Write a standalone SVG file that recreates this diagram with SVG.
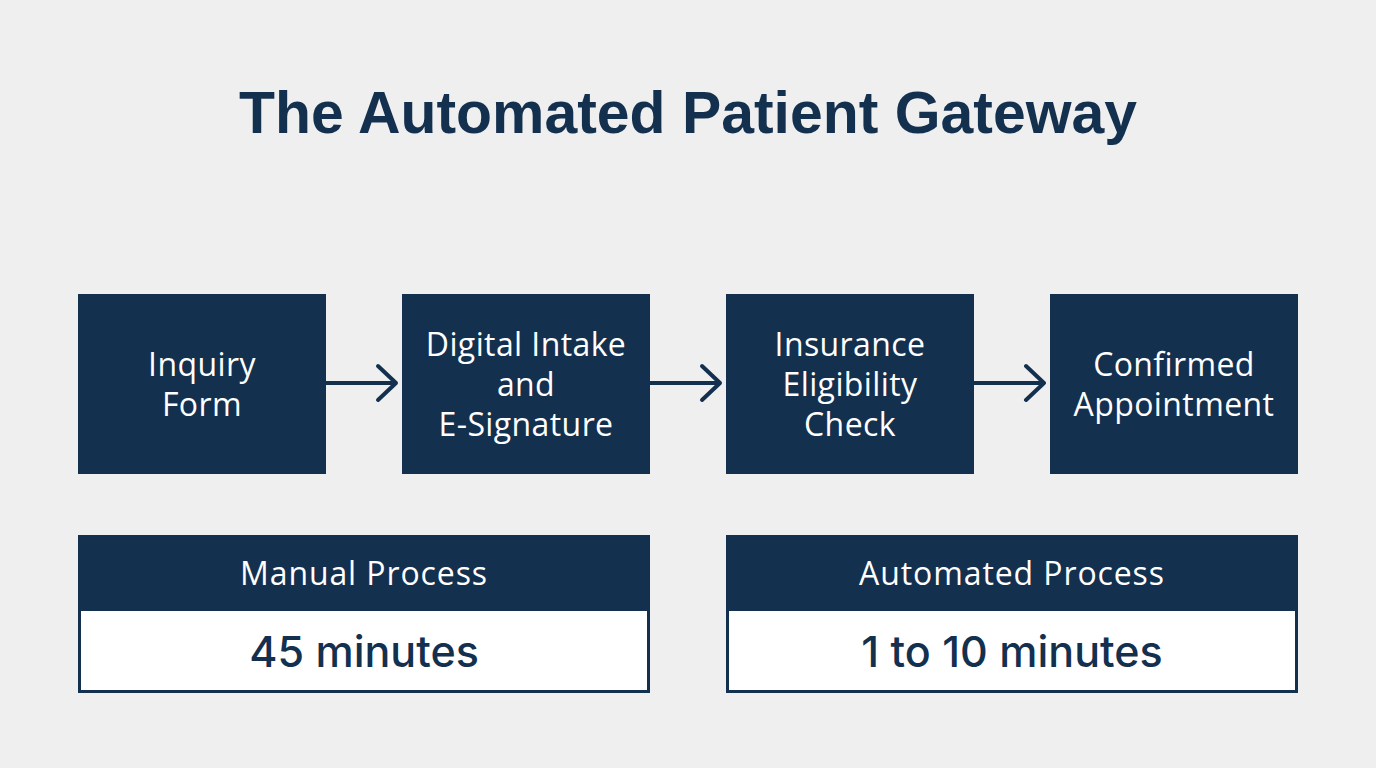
<svg xmlns="http://www.w3.org/2000/svg" width="1376" height="768" viewBox="0 0 1376 768">
<style>
.bg{fill:#efefef}
.node{fill:#14304f}
.nt{fill:#ffffff;font-family:"Open Sans","Noto Sans",sans-serif;font-size:32px;text-anchor:middle;letter-spacing:0.4px}
.ht{fill:#ffffff;font-family:"Open Sans","Noto Sans",sans-serif;font-size:32px;text-anchor:middle;letter-spacing:0.9px}
.title{fill:#14304f;font-family:"Liberation Sans",Arial,sans-serif;font-weight:bold;font-size:60px;text-anchor:middle}
.val{fill:#14304f;font-family:Inter,"Noto Sans",sans-serif;font-weight:500;font-size:43px;text-anchor:middle}
.conn{fill:none;stroke:#14304f;stroke-width:4;stroke-linecap:round;stroke-linejoin:round}
</style>
<rect class="bg" x="0" y="0" width="1376" height="768"/>
<text class="title" x="688" y="133" textLength="898" lengthAdjust="spacingAndGlyphs">The Automated Patient Gateway</text>
<g id="n1"><rect class="node" x="78" y="294" width="248" height="180"/><text class="nt" x="202" y="376">Inquiry</text><text class="nt" x="202" y="416">Form</text></g>
<g id="n2"><rect class="node" x="402" y="294" width="248" height="180"/><text class="nt" x="526" y="356">Digital Intake</text><text class="nt" x="526" y="396">and</text><text class="nt" x="526" y="436">E-Signature</text></g>
<g id="n3"><rect class="node" x="726" y="294" width="248" height="180"/><text class="nt" x="850" y="356">Insurance</text><text class="nt" x="850" y="396">Eligibility</text><text class="nt" x="850" y="436">Check</text></g>
<g id="n4"><rect class="node" x="1050" y="294" width="248" height="180"/><text class="nt" x="1174" y="376">Confirmed</text><text class="nt" x="1174" y="416">Appointment</text></g>
<g id="connectors">
<path class="conn" d="M326 383 H396 M378 366 L396 383 L378 400"/>
<path class="conn" d="M650 383 H720 M702 366 L720 383 L702 400"/>
<path class="conn" d="M974 383 H1044 M1026 366 L1044 383 L1026 400"/>
</g>
<g id="manual"><rect class="node" x="78" y="535" width="572" height="158"/><rect x="81" y="611" width="566" height="79" fill="#ffffff"/><text class="ht" x="364" y="585">Manual Process</text><text class="val" x="364" y="667">45 minutes</text></g>
<g id="automated"><rect class="node" x="726" y="535" width="572" height="158"/><rect x="729" y="611" width="566" height="79" fill="#ffffff"/><text class="ht" x="1012" y="585">Automated Process</text><text class="val" x="1012" y="667">1 to 10 minutes</text></g>
</svg>
